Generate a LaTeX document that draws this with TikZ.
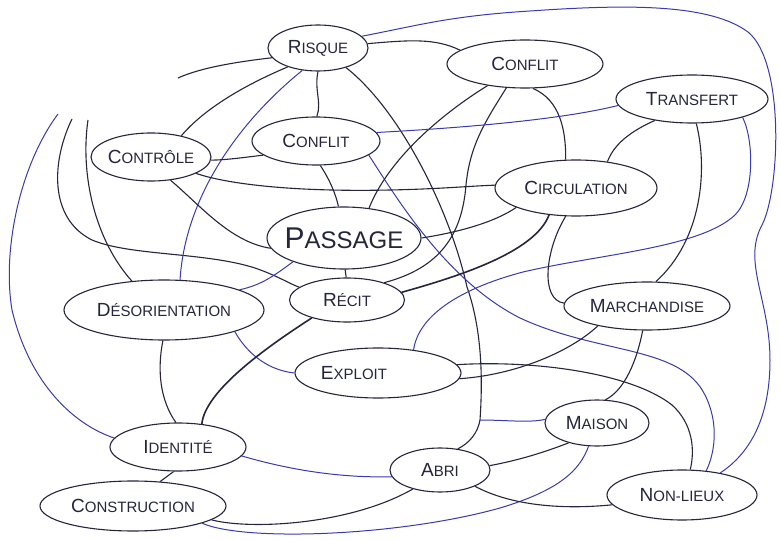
\documentclass[tikz,border=0pt]{standalone}
\usepackage{fontspec}
\setmainfont{Liberation Sans}
\usetikzlibrary{shapes.geometric}
\definecolor{ink}{HTML}{25253F}
\definecolor{blueink}{HTML}{3A3AB0}
\newcommand\hwl[3][19]{{\fontsize{#1}{#1}\selectfont #2}#3}
\begin{document}
\begin{tikzpicture}[x=1pt,y=-1pt,
  bub/.style={ellipse, draw=ink, line width=1.1pt, inner sep=0pt},
  lab/.style={text=ink, font=\fontsize{15}{15}\selectfont, inner sep=0pt},
  ed/.style={draw=ink, line width=1.1pt},
  be/.style={draw=blueink, line width=1.0pt},
  th/.style={draw=ink, line width=1.6pt}]
\fill[white] (0,0) rectangle (780,540);
\useasboundingbox (0,0) rectangle (780,540);

% nodes
\node[bub, minimum width=100pt, minimum height=46pt, label={[lab]center:\hwl{R}{ISQUE}}] (risque) at (318,48) {};
\node[bub, minimum width=156pt, minimum height=48pt, label={[lab]center:\hwl{C}{ONFLIT}}] (conflitT) at (525,64) {};
\node[bub, minimum width=152pt, minimum height=48pt, label={[lab]center:\hwl{T}{RANSFERT}}] (transfert) at (692,99) {};
\node[bub, minimum width=120pt, minimum height=48pt, label={[lab]center:\hwl{C}{ONTRÔLE}}] (controle) at (151,157) {};
\node[bub, minimum width=128pt, minimum height=48pt, label={[lab]center:\hwl{C}{ONFLIT}}] (conflitM) at (316,141) {};
\node[bub, minimum width=162pt, minimum height=56pt, label={[lab]center:\hwl{C}{IRCULATION}}] (circ) at (576,188) {};
\node[bub, minimum width=154pt, minimum height=62pt, label={[lab, font=\fontsize{24}{24}\selectfont]center:\hwl[30]{P}{ASSAGE}}] (passage) at (344,238) {};
\node[bub, minimum width=200pt, minimum height=60pt, label={[lab]center:\hwl{D}{ÉSORIENTATION}}] (deso) at (164,310) {};
\node[bub, minimum width=115pt, minimum height=44pt, label={[lab]center:\hwl{R}{ÉCIT}}] (recit) at (347,300) {};
\node[bub, minimum width=166pt, minimum height=48pt, label={[lab]center:\hwl{M}{ARCHANDISE}}] (march) at (647,306) {};
\node[bub, minimum width=166pt, minimum height=50pt, label={[lab, xshift=-24pt]center:\hwl{E}{XPLOIT}}] (exploit) at (378,373) {};
\node[bub, minimum width=136pt, minimum height=48pt, label={[lab]center:\hwl{I}{DENTITÉ}}] (identite) at (178,447) {};
\node[bub, minimum width=104pt, minimum height=46pt, label={[lab]center:\hwl{M}{AISON}}] (maison) at (597,423) {};
\node[bub, minimum width=100pt, minimum height=44pt, label={[lab]center:\hwl{A}{BRI}}] (abri) at (440,470) {};
\node[bub, minimum width=186pt, minimum height=50pt, label={[lab]center:\hwl{C}{ONSTRUCTION}}] (constr) at (133,506) {};
\node[bub, minimum width=150pt, minimum height=50pt, label={[lab]center:\hwl{N}{ON-LIEUX}}] (nonlieux) at (682,495) {};

% free ends
\coordinate (s1) at (178,78);
\coordinate (l1) at (58,114);
\coordinate (l2) at (72,119);
\coordinate (l3) at (88,120);
\coordinate (rj) at (480,420);

% connectors
\draw[be] (risque.15) .. controls (420,25) and (450,16) .. (530,11) .. controls (630,4) and (710,4) .. (748,32) .. controls (785,62) and (780,190) .. (762,225) .. controls (742,262) and (770,300) .. (770,360) .. controls (770,415) and (752,452) .. (nonlieux.30);
\draw[ed] (risque.5) .. controls (410,40) and (435,38) .. (conflitT.168);
\draw[ed] (risque.192) .. controls (235,62) and (200,68) .. (s1);
\draw[be] (l1) .. controls (20,165) and (2,250) .. (12,310) .. controls (30,385) and (75,425) .. (identite.172);
\draw[ed] (l2) .. controls (52,160) and (48,218) .. (92,240) .. controls (130,256) and (205,252) .. (255,268) .. controls (278,276) and (290,284) .. (recit.165);
\draw[ed] (l3) .. controls (80,175) and (95,240) .. (deso.138);
\draw[ed] (risque.212) .. controls (245,85) and (205,108) .. (controle.35);
\draw[be] (risque.235) .. controls (235,125) and (185,200) .. (deso.62);
\draw[ed] (risque.-90) .. controls (314,90) and (322,102) .. (conflitM.88);
\draw[ed] (risque.-35) .. controls (400,110) and (450,210) .. (467,287) .. controls (484,335) and (482,390) .. (rj) .. controls (478,432) and (470,443) .. (abri.50);
\draw[be] (maison.176) .. controls (530,423) and (505,420) .. (rj);
\draw[be] (conflitM.-15) .. controls (395,195) and (445,280) .. (520,318) .. controls (600,355) and (680,345) .. (705,395) .. controls (720,425) and (714,455) .. (nonlieux.45);
\draw[ed] (exploit.6) .. controls (530,360) and (630,372) .. (672,405) .. controls (693,424) and (695,450) .. (nonlieux.72);
\draw[ed] (exploit.-4) .. controls (515,375) and (570,352) .. (march.-158);
\draw[be] (exploit.33) .. controls (418,318) and (455,290) .. (523,272) .. controls (600,254) and (700,248) .. (735,215) .. controls (755,195) and (754,140) .. (transfert.-20);
\draw[ed] (conflitT.210) .. controls (440,115) and (388,160) .. (passage.50);
\draw[ed] (conflitT.232) .. controls (485,122) and (470,145) .. (466,185) .. controls (462,235) and (440,268) .. (recit.25);
\draw[ed] (conflitT.-72) .. controls (560,100) and (566,130) .. (circ.110);
\draw[ed] (transfert.-150) .. controls (622,135) and (612,150) .. (circ.40);
\draw[ed] (transfert.-80) .. controls (708,170) and (702,240) .. (march.70);
\draw[be] (conflitM.8) .. controls (460,128) and (560,120) .. (transfert.185);
\draw[ed] (controle.-20) .. controls (230,185) and (300,192) .. (390,190) .. controls (440,189) and (470,186) .. (circ.178);
\draw[ed] (passage.0) .. controls (460,232) and (495,222) .. (circ.198);
\draw[th] (recit.8) .. controls (460,276) and (535,252) .. (circ.225);
\draw[ed] (circ.250) .. controls (545,250) and (540,300) .. (march.178);
\draw[ed] (controle.-3) .. controls (225,160) and (240,158) .. (conflitM.195);
\draw[ed] (controle.-50) .. controls (200,205) and (230,242) .. (passage.188);
\draw[ed] (conflitM.-80) .. controls (330,180) and (336,195) .. (passage.100);
\draw[be] (passage.205) .. controls (275,275) and (262,285) .. (deso.15);
\draw[ed] (passage.-88) -- (recit.92);
\draw[ed] (deso.-92) .. controls (157,370) and (160,400) .. (identite.95);
\draw[be] (deso.-17) .. controls (245,350) and (265,370) .. (exploit.180);
\draw[th] (recit.-153) .. controls (262,350) and (205,392) .. (identite.44);
\draw[be] (identite.-8) .. controls (290,470) and (340,478) .. (abri.188);
\draw[ed] (identite.-100) -- (constr.42);
\draw[ed] (constr.-10) .. controls (250,530) and (350,525) .. (abri.215);
\draw[be] (constr.-14) .. controls (245,542) and (400,536) .. (500,508) .. controls (560,490) and (580,470) .. (maison.-110);
\draw[ed] (abri.5) .. controls (520,460) and (545,452) .. (maison.215);
\draw[ed] (abri.-25) .. controls (510,505) and (560,510) .. (nonlieux.188);
\draw[ed] (march.-100) .. controls (637,360) and (625,390) .. (maison.70);
\end{tikzpicture}
\end{document}
